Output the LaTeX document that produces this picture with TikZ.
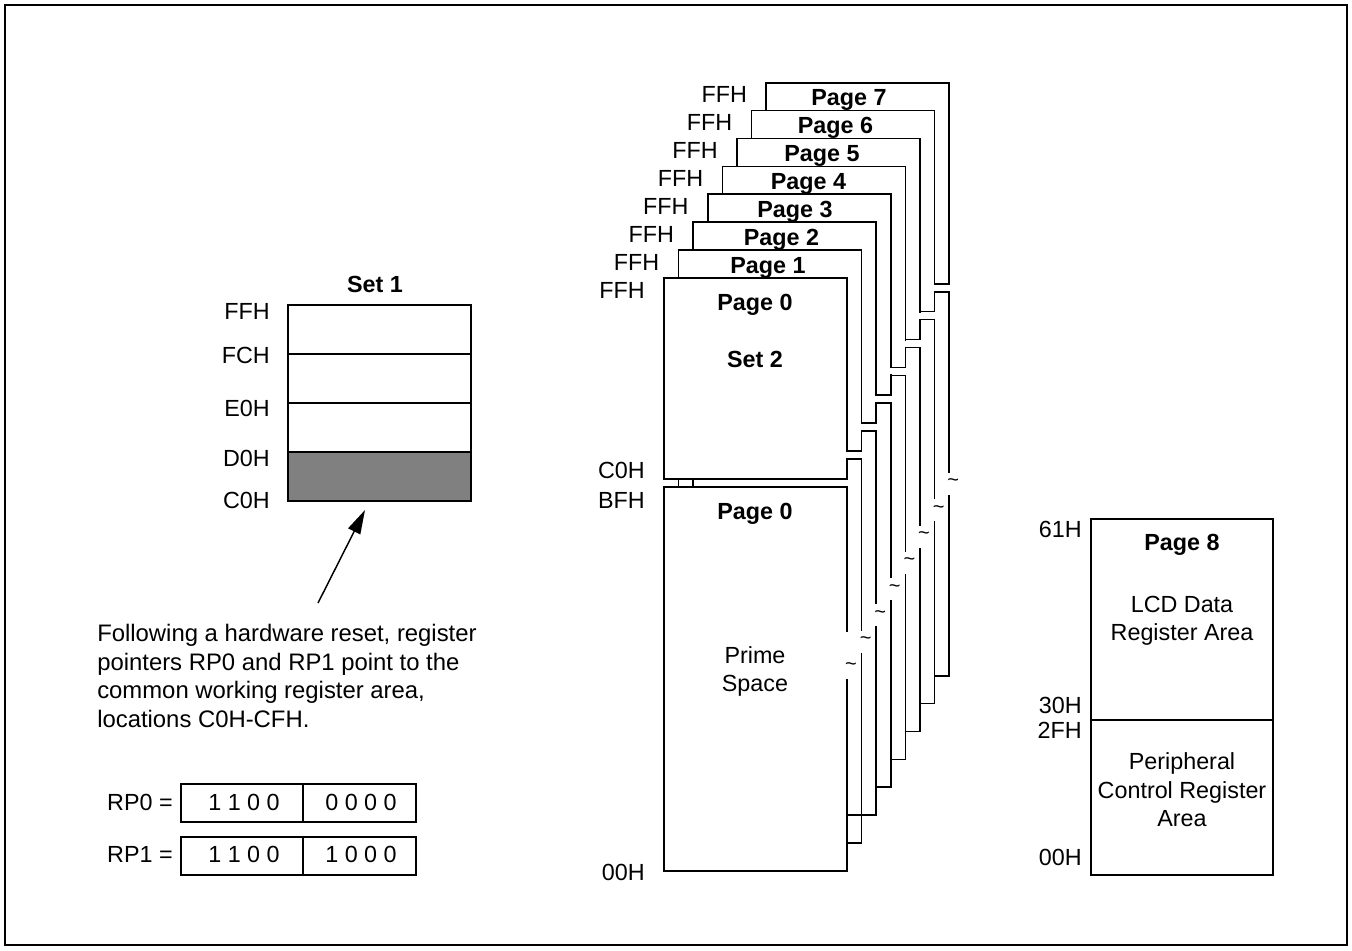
\documentclass[tikz,border=0pt]{standalone}
\usepackage{fontspec}
\setmainfont{Liberation Sans}
\usetikzlibrary{arrows.meta}
\definecolor{fillgray}{HTML}{808080}
\begin{document}
\begin{tikzpicture}[x=0.75pt,y=-0.75pt,
  lbl/.style={font=\fontsize{17.5}{21.3}\selectfont, inner sep=0pt},
  blbl/.style={font=\fontsize{17.5}{21.3}\selectfont\bfseries, inner sep=0pt},
  box/.style={draw=black, line width=1.1pt},
  pg/.style={draw=black, line width=1.3pt, fill=white},
  tld/.style={font=\fontsize{15}{15}\selectfont, inner sep=0pt}]
\useasboundingbox (0,0) rectangle (1352,950);
\draw[line width=1pt] (5,5) rectangle (1347,945);

% ---------- Set 1 ----------
\fill[fillgray] (288,452) rectangle (471,501);
\draw[box] (288,305) rectangle (471,501);
\draw[box] (288,354) -- (471,354);
\draw[box] (288,403) -- (471,403);
\draw[box] (288,452) -- (471,452);
\node[blbl, anchor=base] (set1) at (375,292) {Set 1};
\node[lbl, anchor=base east] (s1ffh) at (270,319) {FFH};
\node[lbl, anchor=base east] (s1fch) at (270,363) {FCH};
\node[lbl, anchor=base east] (s1e0h) at (270,416) {E0H};
\node[lbl, anchor=base east] (s1d0h) at (270,466) {D0H};
\node[lbl, anchor=base east] (s1c0h) at (270,508) {C0H};

\coordinate (arrtail) at (318,603);
\coordinate (arrtip) at (365,510);
\draw[line width=1.1pt, -{Triangle[length=18pt,width=10pt]}] (arrtail) -- (arrtip);

\node[lbl, font=\fontsize{17.9}{21.3}\selectfont, anchor=west, align=left] (note) at (97,676)
  {Following a hardware reset, register\\pointers RP0 and RP1 point to the\\common working register area,\\locations C0H-CFH.};

% ---------- RP registers ----------
\node[lbl, anchor=base east] (rp0) at (173,810) {RP0 =};
\draw[box] (181,784) rectangle (416,822);
\draw[box] (303,784) -- (303,822);
\node[lbl, anchor=base] (rp0a) at (244,810) {1 1 0 0};
\node[lbl, anchor=base] (rp0b) at (361,810) {0 0 0 0};
\node[lbl, anchor=base east] (rp1) at (173,862) {RP1 =};
\draw[box] (181,837) rectangle (416,875);
\draw[box] (303,837) -- (303,875);
\node[lbl, anchor=base] (rp1a) at (244,862) {1 1 0 0};
\node[lbl, anchor=base] (rp1b) at (361,862) {1 0 0 0};

% ---------- Page stack ----------
\foreach \k in {7,6,...,0}{
  \pgfmathsetmacro\lx{664+14.6*\k}
  \pgfmathsetmacro\rx{847+14.6*\k}
  \pgfmathsetmacro\ty{278-27.9*\k}
  \pgfmathsetmacro\uy{479-27.9*\k}
  \pgfmathsetmacro\ly{487-27.9*\k}
  \pgfmathsetmacro\by{871-27.9*\k}
  \pgfmathsetmacro\tt{667-26.3*\k}
  \pgfmathsetmacro\gt{\k==0 ? 35 : 10}
  \draw[pg] (\lx,\ty) rectangle (\rx,\uy);
  \draw[pg] (\lx,\ly) rectangle (\rx,\by);
  \fill[white] (\rx-2,\tt-\gt) rectangle (\rx+2,\tt+12);
  \node[tld] (tilde\k) at (\rx+4,\tt) {\textasciitilde};
}
% breaks of the front edge at each step
\foreach \k in {1,...,7}{
  \pgfmathsetmacro\px{847+14.6*(\k-1)}
  \pgfmathsetmacro\uy{479-27.9*\k}
  \pgfmathsetmacro\ly{487-27.9*\k}
  \fill[white] (\px-1.6,\uy+1) rectangle (\px+1.6,\ly-1);
}
\draw[line width=1.3pt] (693.2,479) -- (693.2,487);
\draw[line width=1.3pt] (847,815.2) -- (861.6,815.2);

\foreach \k in {0,...,7}{
  \pgfmathsetmacro\lx{664+14.6*\k}
  \pgfmathsetmacro\ty{278-27.9*\k}
  \node[lbl, anchor=base east] (ffh\k) at (\lx-19,\ty+20) {FFH};
}
\foreach \k in {1,...,7}{
  \pgfmathsetmacro\ty{278-27.9*\k}
  \pgfmathsetmacro\px{754.5+13.5*\k}
  \node[blbl, anchor=base] (page\k) at (\px,\ty+23) {Page \k};
}
\node[blbl, anchor=base] (page0a) at (755,310) {Page 0};
\node[blbl, anchor=base] (set2) at (755,367) {Set 2};
\node[blbl, anchor=base] (page0b) at (755,519) {Page 0};
\node[lbl, align=center] (prime) at (755,671.5) {Prime\\Space};
\node[lbl, anchor=base east] (c0h) at (645,478) {C0H};
\node[lbl, anchor=base east] (bfh) at (645,508) {BFH};
\node[lbl, anchor=base east] (p00h) at (645,880) {00H};

% ---------- Page 8 ----------
\draw[box] (1091,519) rectangle (1273,875);
\draw[box] (1091,720) -- (1273,720);
\node[blbl, anchor=base] (page8) at (1182,550) {Page 8};
\node[lbl, align=center] (lcd) at (1182,620.5) {LCD Data\\Register Area};
\node[lbl, align=center] (periph) at (1182,790) {Peripheral\\Control Register\\Area};
\node[lbl, anchor=base east] (h61) at (1082,537) {61H};
\node[lbl, anchor=base east] (h30) at (1082,713) {30H};
\node[lbl, anchor=base east] (h2f) at (1082,738) {2FH};
\node[lbl, anchor=base east] (h00) at (1082,865) {00H};
\end{tikzpicture}
\end{document}
